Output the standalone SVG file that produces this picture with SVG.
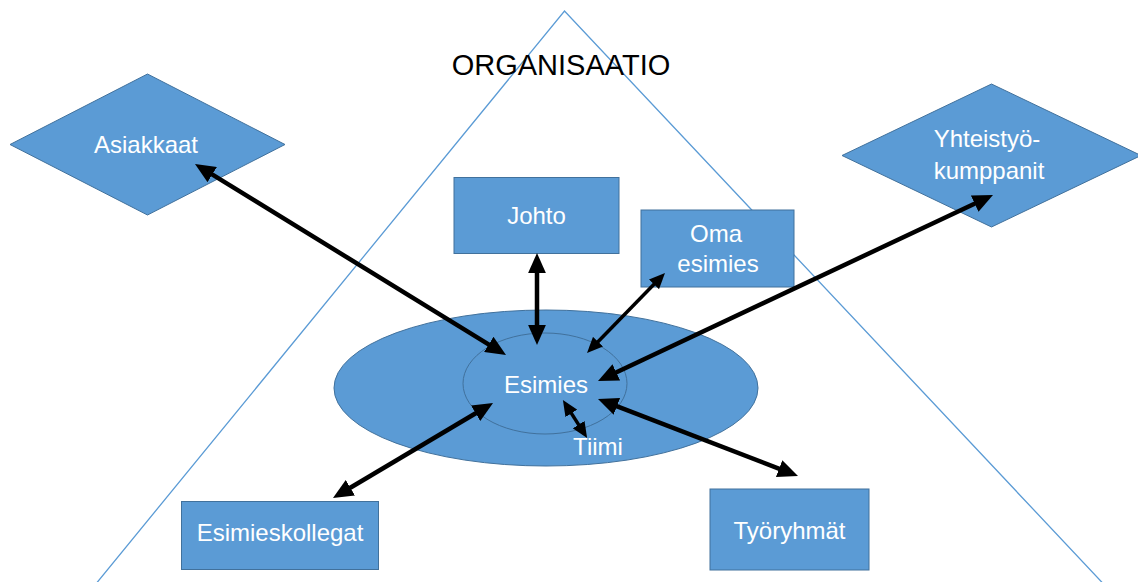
<svg xmlns="http://www.w3.org/2000/svg" width="1138" height="582" viewBox="0 0 1138 582">
<style>
.shape{fill:#5B9BD5;stroke:#41719C;stroke-width:1}
.lbl{font-family:"Liberation Sans",Arial,sans-serif;font-size:24px;fill:#FFFFFF;text-anchor:middle}
.title{font-family:"Liberation Sans",Arial,sans-serif;font-size:29px;fill:#000000;text-anchor:middle}
.conn{stroke:#000000;fill:none;marker-start:url(#ah);marker-end:url(#ah)}
.thick{stroke-width:4.5}
.thin{stroke-width:3.5}
</style>
<defs>
<marker id="ah" viewBox="0 0 4.5 4" markerWidth="4.5" markerHeight="4" refX="1" refY="2" orient="auto-start-reverse" markerUnits="strokeWidth">
<path d="M0,0 L4.5,2 L0,4 z" fill="#000000"/>
</marker>
</defs>
<rect width="1138" height="582" fill="#FFFFFF"/>
<g id="organisaatio">
<polyline points="95,585 564.5,11 1104.5,585" fill="none" stroke="#5B9BD5" stroke-width="1.3"/>
<text class="title" x="561" y="75">ORGANISAATIO</text>
</g>
<g id="tiimi">
<ellipse class="shape" cx="546" cy="388" rx="212" ry="78"/>
<text class="lbl" x="598" y="455">Tiimi</text>
</g>
<g id="esimies">
<ellipse class="shape" cx="545" cy="383.5" rx="82" ry="50.5"/>
<text class="lbl" x="546" y="392.5">Esimies</text>
</g>
<g id="asiakkaat">
<polygon class="shape" points="10,144.5 147.5,74 285,144.5 147.5,215"/>
<text class="lbl" x="146" y="153">Asiakkaat</text>
</g>
<g id="yhteistyokumppanit">
<polygon class="shape" points="842,155.5 991.5,84 1141,155.5 991.5,227"/>
<text class="lbl" x="987" y="147">Yhteistyö-</text>
<text class="lbl" x="989" y="179">kumppanit</text>
</g>
<g id="johto">
<rect class="shape" x="454" y="177.5" width="165" height="76"/>
<text class="lbl" x="536.5" y="224">Johto</text>
</g>
<g id="oma-esimies">
<rect class="shape" x="641" y="210" width="153" height="77"/>
<text class="lbl" x="716" y="241.5">Oma</text>
<text class="lbl" x="718" y="271.5">esimies</text>
</g>
<g id="esimieskollegat">
<rect class="shape" x="181.5" y="501.5" width="197" height="68"/>
<text class="lbl" x="280" y="541">Esimieskollegat</text>
</g>
<g id="tyoryhmat">
<rect class="shape" x="710" y="489" width="159" height="81"/>
<text class="lbl" x="789.5" y="539">Työryhmät</text>
</g>
<g id="connectors">
<line class="conn thick" x1="208.4" y1="172.2" x2="492.6" y2="346.8"/>
<line class="conn thick" x1="537" y1="268.75" x2="537" y2="329.25"/>
<line class="conn thin" x1="656.45" y1="281.77" x2="595.55" y2="344.23"/>
<line class="conn thick" x1="978.75" y1="201.7" x2="612.25" y2="374.3"/>
<line class="conn thick" x1="479.5" y1="411" x2="346.5" y2="490"/>
<line class="conn thick" x1="612.7" y1="404.7" x2="783.3" y2="470.3"/>
<line class="conn thin" x1="569.5" y1="410.4" x2="580.5" y2="427.6"/>
</g>
</svg>
